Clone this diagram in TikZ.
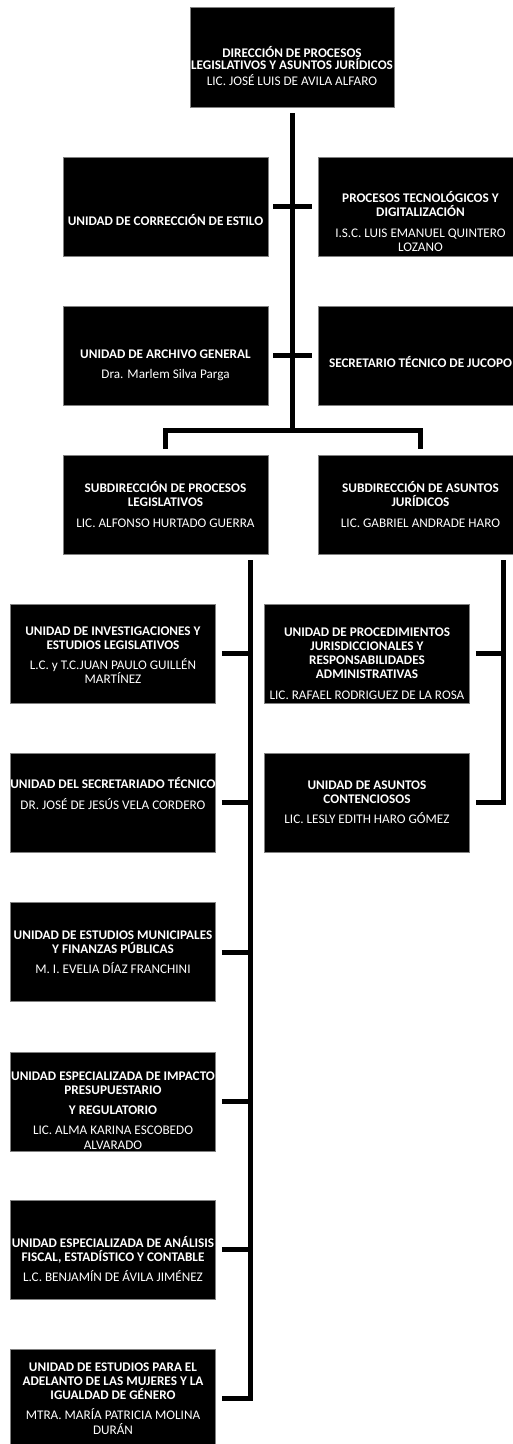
\documentclass[tikz,border=0pt]{standalone}
\usepackage{fontspec}
\setmainfont{Carlito}
\usepackage{tikz}
\usetikzlibrary{calc}

\tikzset{
  unit/.style={draw=gray, line width=0.75bp, fill=black, minimum width=205bp, minimum height=99bp, inner sep=0pt},
  unittext/.style={text=white, align=center, inner sep=0pt, font=\fontsize{13.2bp}{14.2bp}\selectfont},
  link/.style={line width=5bp, black},
}

\begin{document}
\begin{tikzpicture}[x=1bp, y=-1bp]
\useasboundingbox (0,0) rectangle (513,1444);

% direction
\node[unit, minimum width=204bp, minimum height=100bp] (dir) at (292,57) {};
\node[unittext, font=\fontsize{13.2bp}{12.5bp}\selectfont] (dirtext) at ([yshift=-9bp]dir.center) {\textbf{DIRECCIÓN DE PROCESOS}\\\textbf{LEGISLATIVOS Y ASUNTOS JURÍDICOS}\\[3bp]LIC. JOSÉ LUIS DE AVILA ALFARO};

% staff units
\node[unit] (corr) at (165.5,206.5) {};
\node[unittext] (corrtext) at ([yshift=-14bp]corr.center) {\textbf{UNIDAD DE CORRECCIÓN DE ESTILO}};
\node[unit] (tecno) at (420.5,206.5) {};
\node[unittext] (tecnotext) at ([yshift=-15bp]tecno.center) {\textbf{PROCESOS TECNOLÓGICOS Y}\\\textbf{DIGITALIZACIÓN}\\[6bp]I.S.C. LUIS EMANUEL QUINTERO\\LOZANO};
\node[unit] (archivo) at (165.5,355.5) {};
\node[unittext] (archivotext) at ([yshift=-10bp]archivo.center) {\textbf{UNIDAD DE ARCHIVO GENERAL}\\[6bp]Dra. Marlem Silva Parga};
\node[unit] (jucopo) at (420.5,355.5) {};
\node[unittext] (jucopotext) at ([yshift=-7bp]jucopo.center) {\textbf{SECRETARIO TÉCNICO DE JUCOPO}};

% subdirections
\node[unit] (subleg) at (165.5,504.5) {};
\node[unittext] (sublegtext) at (subleg.center) {\textbf{SUBDIRECCIÓN DE PROCESOS}\\\textbf{LEGISLATIVOS}\\[6bp]LIC. ALFONSO HURTADO GUERRA};
\node[unit] (subjur) at (420.5,504.5) {};
\node[unittext] (subjurtext) at (subjur.center) {\textbf{SUBDIRECCIÓN DE ASUNTOS}\\\textbf{JURÍDICOS}\\[6bp]LIC. GABRIEL ANDRADE HARO};

% legislative units
\node[unit] (inv) at (113,653.5) {};
\node[unittext] (invtext) at ([yshift=-1.5bp]inv.center) {\textbf{UNIDAD DE INVESTIGACIONES Y}\\\textbf{ESTUDIOS LEGISLATIVOS}\\[6bp]L.C. y T.C.JUAN PAULO GUILLÉN\\MARTÍNEZ};
\node[unit] (secret) at (113,802.5) {};
\node[unittext] (secrettext) at ([yshift=9bp]secret.center) {\textbf{UNIDAD DEL SECRETARIADO TÉCNICO}\\[6bp]DR. JOSÉ DE JESÚS VELA CORDERO};
\node[unit] (munic) at (113,952) {};
\node[unittext] (munictext) at (munic.center) {\textbf{UNIDAD DE ESTUDIOS MUNICIPALES}\\\textbf{Y FINANZAS PÚBLICAS}\\[6bp]M. I. EVELIA DÍAZ FRANCHINI};
\node[unit] (impacto) at (113,1101.5) {};
\node[unittext] (impactotext) at ([yshift=-9bp]impacto.center) {\textbf{UNIDAD ESPECIALIZADA DE IMPACTO}\\\textbf{PRESUPUESTARIO}\\[6bp]\textbf{Y REGULATORIO}\\[6bp]LIC. ALMA KARINA ESCOBEDO\\ALVARADO};
\node[unit] (analisis) at (113,1249.5) {};
\node[unittext] (analisistext) at ([yshift=-9.5bp]analisis.center) {\textbf{UNIDAD ESPECIALIZADA DE ANÁLISIS}\\\textbf{FISCAL, ESTADÍSTICO Y CONTABLE}\\[6bp]L.C. BENJAMÍN DE ÁVILA JIMÉNEZ};
\node[unit] (mujeres) at (113,1398.5) {};
\node[unittext] (mujerestext) at (mujeres.center) {\textbf{UNIDAD DE ESTUDIOS PARA EL}\\\textbf{ADELANTO DE LAS MUJERES Y LA}\\\textbf{IGUALDAD DE GÉNERO}\\[6bp]MTRA. MARÍA PATRICIA MOLINA\\DURÁN};

% legal units
\node[unit] (proc) at (367,653.5) {};
\node[unittext] (proctext) at ([yshift=-10bp]proc.center) {\textbf{UNIDAD DE PROCEDIMIENTOS}\\\textbf{JURISDICCIONALES Y}\\\textbf{RESPONSABILIDADES}\\\textbf{ADMINISTRATIVAS}\\[6bp]LIC. RAFAEL RODRIGUEZ DE LA ROSA};
\node[unit] (conten) at (367,802.5) {};
\node[unittext] (contentext) at (conten.center) {\textbf{UNIDAD DE ASUNTOS}\\\textbf{CONTENCIOSOS}\\[6bp]LIC. LESLY EDITH HARO GÓMEZ};

% main spine
\coordinate (split) at (292,430);
\draw[link] ([yshift=-6bp]dir.south) -- (split);
\draw[link] ([xshift=5bp]corr.east) -- ([xshift=-6bp]tecno.west);
\draw[link] ([xshift=5bp]archivo.east) -- ([xshift=-6bp]jucopo.west);
\draw[link] ([yshift=6bp]subleg.north) |- (split) -| ([yshift=6bp]subjur.north);

% legislative spine
\coordinate (legspine) at (250,560);
\draw[link] (legspine) |- ([xshift=6bp]mujeres.east);
\foreach \u in {inv,secret,munic,impacto,analisis}
  \draw[link] ([xshift=6bp]\u.east) -- (\u.east -| legspine);

% legal spine
\coordinate (jurspine) at (503,560);
\draw[link] (jurspine) |- ([xshift=6bp]conten.east);
\draw[link] ([xshift=6bp]proc.east) -- (proc.east -| jurspine);
\end{tikzpicture}
\end{document}
